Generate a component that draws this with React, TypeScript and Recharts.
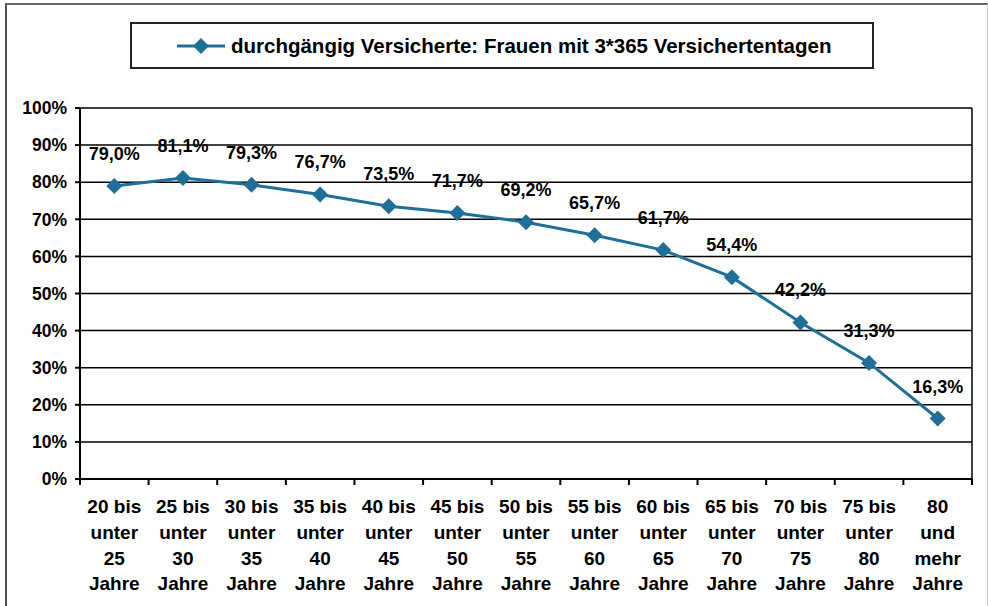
import { LineChart, Line, XAxis, YAxis, CartesianGrid, LabelList } from "recharts";

const categories = [
  "20 bis|unter|25|Jahre",
  "25 bis|unter|30|Jahre",
  "30 bis|unter|35|Jahre",
  "35 bis|unter|40|Jahre",
  "40 bis|unter|45|Jahre",
  "45 bis|unter|50|Jahre",
  "50 bis|unter|55|Jahre",
  "55 bis|unter|60|Jahre",
  "60 bis|unter|65|Jahre",
  "65 bis|unter|70|Jahre",
  "70 bis|unter|75|Jahre",
  "75 bis|unter|80|Jahre",
  "80|und|mehr|Jahre",
];
const shares = [79.0, 81.1, 79.3, 76.7, 73.5, 71.7, 69.2, 65.7, 61.7, 54.4, 42.2, 31.3, 16.3];
const yTicks = [0, 10, 20, 30, 40, 50, 60, 70, 80, 90, 100];
const seriesName = "durchgängig Versicherte: Frauen mit 3*365 Versichertentagen";

const data = categories.map((c, i) => ({ cat: c, value: shares[i] }));

const FONT = "'Liberation Sans', Arial, sans-serif";
const BLUE = "#1f6f99";
const W = 988;
const H = 606;
const M = { top: 108, right: 16, bottom: 0, left: 0 };
const Y_W = 80;
const X_H = 127;
const plotW = W - M.left - M.right - Y_W;
const band = plotW / categories.length;

function Diamond({ cx, cy, r = 8 }: any) {
  if (cx == null || cy == null) return null;
  return <path d={`M${cx},${cy - r}L${cx + r},${cy}L${cx},${cy + r}L${cx - r},${cy}Z`} fill={BLUE} />;
}

function XTick({ x, y, payload, index }: any) {
  const lines = String(payload.value).split("|");
  const left = x - band / 2;
  const ay = y - 2;
  return (
    <g>
      <line x1={left} y1={ay} x2={left} y2={ay + 6} stroke="#000" strokeWidth={2} />
      {index === categories.length - 1 && (
        <line x1={left + band} y1={ay} x2={left + band} y2={ay + 6} stroke="#000" strokeWidth={2} />
      )}
      <text x={x} y={ay + 34} textAnchor="middle" fontFamily={FONT} fontWeight="bold" fontSize={19} fill="#000">
        {lines.map((l, i) => (
          <tspan key={i} x={x} dy={i === 0 ? 0 : 25.8}>
            {l}
          </tspan>
        ))}
      </text>
    </g>
  );
}

function ValueLabel({ x, y, value }: any) {
  return (
    <text x={x} y={y - 26} textAnchor="middle" fontFamily={FONT} fontWeight="bold" fontSize={18} fill="#000">
      {Number(value).toFixed(1).replace(".", ",")}%
    </text>
  );
}

export default function App() {
  return (
    <div style={{ position: "absolute", left: 0, top: 0, width: W, height: H, background: "#fff", overflow: "hidden" }}>
      <div
        style={{
          position: "absolute",
          left: 5,
          top: 3,
          width: 980,
          height: 620,
          borderLeft: "2px solid #555",
          borderTop: "2px solid #666",
          borderRight: "1px solid #ccc",
        }}
      />
      <div
        style={{
          position: "absolute",
          left: 130,
          top: 22,
          width: 740,
          height: 43,
          border: "2px solid #222",
          display: "flex",
          alignItems: "center",
          fontFamily: FONT,
          fontWeight: "bold",
          fontSize: 20.5,
          color: "#000",
          whiteSpace: "nowrap",
        }}
      >
        <svg width={48} height={20} style={{ marginLeft: 45, marginRight: 6 }}>
          <line x1={0} y1={10} x2={48} y2={10} stroke={BLUE} strokeWidth={3} />
          <Diamond cx={24} cy={10} r={8} />
        </svg>
        <span>{seriesName}</span>
      </div>
      <div style={{ position: "absolute", left: 0, top: 0 }}>
        <LineChart width={W} height={H} data={data} margin={M}>
          <CartesianGrid
            vertical={true}
            verticalCoordinatesGenerator={({ offset }: any) => [offset.left + offset.width]}
            stroke="#000"
            strokeWidth={1.5}
          />
          <XAxis
            dataKey="cat"
            interval={0}
            height={X_H}
            padding={{ left: band / 2, right: band / 2 }}
            tickLine={false}
            axisLine={{ stroke: "#000", strokeWidth: 2 }}
            tick={<XTick />}
            tickSize={0}
          />
          <YAxis
            domain={[0, 100]}
            ticks={yTicks}
            width={Y_W}
            interval={0}
            tickFormatter={(v: number) => `${v}%`}
            axisLine={{ stroke: "#000", strokeWidth: 2 }}
            tickLine={{ stroke: "#000", strokeWidth: 2 }}
            tickSize={5}
            tickMargin={8}
            tick={{ fontFamily: FONT, fontWeight: "bold", fontSize: 17.5, fill: "#000" }}
          />
          <Line
            type="linear"
            dataKey="value"
            name={seriesName}
            stroke={BLUE}
            strokeWidth={3}
            dot={<Diamond r={8} />}
            activeDot={false}
            isAnimationActive={false}
          >
            <LabelList dataKey="value" content={<ValueLabel />} />
          </Line>
        </LineChart>
      </div>
    </div>
  );
}
